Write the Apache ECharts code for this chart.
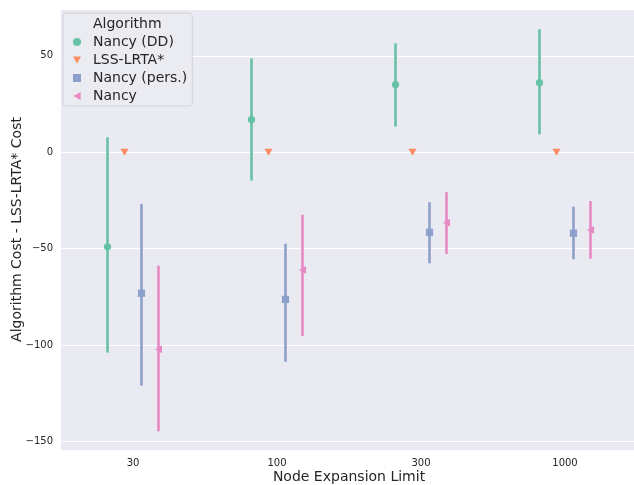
<!DOCTYPE html>
<html>
<head>
<meta charset="utf-8">
<script src="https://cdn.jsdelivr.net/npm/echarts@6/dist/echarts.min.js"></script>
<style>html,body{margin:0;padding:0;background:#fff;}#c{width:634px;height:485px;}</style>
</head>
<body>
<div id="c"></div>
<script>
// ---- data ----
const categories = ['30', '100', '300', '1000'];
const seriesNames = ['Nancy (DD)', 'LSS-LRTA*', 'Nancy (pers.)', 'Nancy'];
const nancyDDMean = [-49.0, 16.9, 35.1, 36.1];
const nancyDDLow  = [-103.9, -14.7, 13.3, 9.3];
const nancyDDHigh = [7.8, 48.7, 56.5, 63.8];
const lssMean = [0, 0, 0, 0];
const lssLow  = [0, 0, 0, 0];
const lssHigh = [0, 0, 0, 0];
const persMean = [-73.1, -76.3, -41.5, -42.0];
const persLow  = [-121.0, -108.6, -57.6, -55.5];
const persHigh = [-26.8, -47.4, -25.9, -28.2];
const nancyMean = [-102.2, -61.0, -36.5, -40.3];
const nancyLow  = [-144.7, -95.3, -52.7, -55.2];
const nancyHigh = [-58.8, -32.4, -20.7, -25.3];

const colors = ['#66c2a5', '#fc8d62', '#8da0cb', '#e78ac3'];
const markers = ['circle', 'down', 'square', 'left'];
const allMeans = [nancyDDMean, lssMean, persMean, nancyMean];
const allLows = [nancyDDLow, lssLow, persLow, nancyLow];
const allHighs = [nancyDDHigh, lssHigh, persHigh, nancyHigh];
const dodgeFrac = 0.118;

function markerShape(kind, x, y, color) {
  const s = { fill: color, stroke: null };
  if (kind === 'circle') return { type: 'circle', shape: { cx: x, cy: y, r: 3.6 }, style: s };
  if (kind === 'square') return { type: 'rect', shape: { x: x - 3.6, y: y - 3.6, width: 7.2, height: 7.2 }, style: s };
  if (kind === 'down') return { type: 'polygon', shape: { points: [[x - 4, y - 3.5], [x + 4, y - 3.5], [x, y + 3.5]] }, style: s };
  return { type: 'polygon', shape: { points: [[x + 3.5, y - 4], [x + 3.5, y + 4], [x - 3.5, y]] }, style: s };
}

function makeSeries(k) {
  const data = categories.map((c, i) => [i, allMeans[k][i], allLows[k][i], allHighs[k][i]]);
  return {
    name: seriesNames[k],
    type: 'custom',
    itemStyle: { color: colors[k] },
    data: data,
    z: 3 + k,
    renderItem: function (params, api) {
      const xi = api.value(0);
      const m = api.coord([xi, api.value(1)]);
      const lo = api.coord([xi, api.value(2)]);
      const hi = api.coord([xi, api.value(3)]);
      const bw = api.size([1, 0])[0];
      const dx = (k - 1.5) * dodgeFrac * bw;
      const x = m[0] + dx;
      const children = [];
      if (Math.abs(lo[1] - hi[1]) > 0.5) {
        children.push({ type: 'line', shape: { x1: x, y1: lo[1], x2: x, y2: hi[1] }, style: { stroke: colors[k], lineWidth: 2.6 } });
      }
      children.push(markerShape(markers[k], x, m[1], colors[k]));
      return { type: 'group', children: children };
    }
  };
}

const chart = echarts.init(document.getElementById('c'));
chart.setOption({
  animation: false,
  grid: { left: 61, top: 9, width: 576, height: 441, show: true, backgroundColor: '#eaeaf2', borderWidth: 0, containLabel: false, outerBoundsMode: 'none' },
  xAxis: {
    type: 'category',
    data: categories,
    boundaryGap: true,
    name: 'Node Expansion Limit',
    nameLocation: 'middle',
    nameGap: 20,
    nameMoveOverlap: false,
    nameTextStyle: { fontFamily: 'DejaVu Sans', fontSize: 14, color: '#262626' },
    axisLine: { show: false },
    axisTick: { show: false },
    splitLine: { show: false },
    axisLabel: { fontFamily: 'DejaVu Sans', fontSize: 10, color: '#262626', margin: 8 }
  },
  yAxis: {
    type: 'value',
    min: -154.4,
    max: 74.3,
    name: 'Algorithm Cost - LSS-LRTA* Cost',
    nameLocation: 'middle',
    nameGap: 37,
    nameMoveOverlap: false,
    nameTextStyle: { fontFamily: 'DejaVu Sans', fontSize: 14, color: '#262626' },
    axisLine: { show: false },
    axisTick: { show: false },
    splitLine: { show: true, lineStyle: { color: '#ffffff', width: 1.2 } },
    axisLabel: {
      fontFamily: 'DejaVu Sans', fontSize: 10, color: '#262626', margin: 8,
      showMinLabel: false, showMaxLabel: false,
      formatter: function (v) { return v < 0 ? '\u2212' + Math.abs(v) : String(v); }
    }
  },
  legend: {
    orient: 'vertical',
    left: 63,
    top: 13,
    padding: [22, 5, 3, 10],
    itemGap: 4,
    itemWidth: 8,
    itemHeight: 8,
    backgroundColor: 'rgba(234,234,242,0.92)',
    borderColor: '#d3d3da',
    borderWidth: 1,
    borderRadius: 3,
    textStyle: { fontFamily: 'DejaVu Sans', fontSize: 14, color: '#262626', lineHeight: 14, padding: [0, 0, 0, 7] },
    data: [
      { name: seriesNames[0], icon: 'circle' },
      { name: seriesNames[1], icon: 'path://M0,0L10,0L5,9Z' },
      { name: seriesNames[2], icon: 'rect' },
      { name: seriesNames[3], icon: 'path://M9,0L9,10L0,5Z' }
    ]
  },
  graphic: [{
    type: 'text', left: 93, top: 17, z: 100,
    style: { text: 'Algorithm', fontFamily: 'DejaVu Sans', fontSize: 14, fill: '#262626' }
  }],
  series: [0, 1, 2, 3].map(makeSeries)
});
</script>
</body>
</html>
